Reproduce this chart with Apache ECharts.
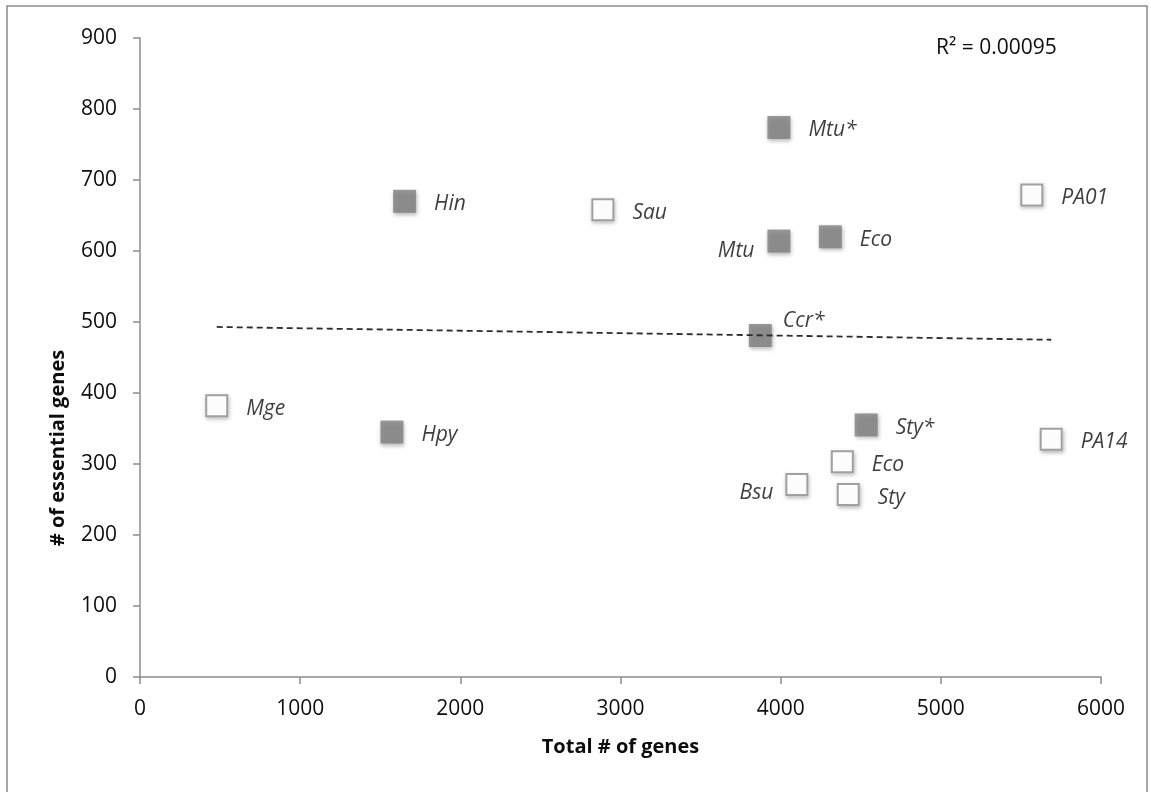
<!DOCTYPE html>
<html>
<head>
<meta charset="utf-8">
<script src="https://cdn.jsdelivr.net/npm/echarts@6/dist/echarts.min.js"></script>
<style>
  html, body { margin: 0; padding: 0; background: #fff; }
  #chart { width: 1151px; height: 792px; }
</style>
</head>
<body>
<div id="chart"></div>
<script>
// Organisms whose essential gene sets are drawn as filled squares
const filledNames = ['Hin', 'Mtu*', 'Mtu', 'Eco', 'Ccr*', 'Hpy', 'Sty*'];
const filledTotalGenes = [1652, 3989, 3989, 4310, 3873, 1573, 4534];
const filledEssentialGenes = [670, 774, 614, 620, 481, 345, 355];

// Organisms drawn as open squares
const openNames = ['Sau', 'PA01', 'Mge', 'Eco', 'Bsu', 'Sty', 'PA14'];
const openTotalGenes = [2890, 5568, 479, 4385, 4101, 4422, 5689];
const openEssentialGenes = [658, 679, 382, 303, 271, 257, 335];

// Linear trendline end points
const trendTotalGenes = [479, 5689];
const trendEssentialGenes = [493, 475];
const rSquaredText = 'R² = 0.00095';

const xTicks = { min: 0, max: 6000, interval: 1000 };
const yTicks = { min: 0, max: 900, interval: 100 };

const FONT = '"Open Sans", "DejaVu Sans", sans-serif';
const axisGray = '#8c8c8c';
const textColor = '#0d0d0d';

// Label placement tweaks for crowded points
const labelOverrides = {
  'Mtu': { position: 'left', distance: 13, offset: [0, 10] },
  'Bsu': { position: 'left', distance: 12, offset: [0, 8] },
  'Ccr*': { position: 'right', distance: 11, offset: [0, -14] }
};

function buildPoints(names, xs, ys, withOverrides) {
  return names.map((n, i) => {
    const item = { name: n, value: [xs[i], ys[i]] };
    if (withOverrides && labelOverrides[n]) item.label = labelOverrides[n];
    return item;
  });
}

const pointLabel = {
  show: true,
  formatter: '{b}',
  position: 'right',
  distance: 18,
  offset: [0, 3],
  fontFamily: FONT,
  fontStyle: 'italic',
  fontSize: 21,
  color: textColor
};

const squareShadow = {
  shadowColor: 'rgba(0,0,0,0.35)', shadowBlur: 4, shadowOffsetX: 1, shadowOffsetY: 2
};

const chart = echarts.init(document.getElementById('chart'), null, { renderer: 'canvas' });

chart.setOption({
  backgroundColor: '#ffffff',
  animation: false,
  grid: { left: 140, right: 50, top: 38, bottom: 115, outerBoundsMode: 'none' },
  xAxis: {
    type: 'value',
    min: xTicks.min, max: xTicks.max, interval: xTicks.interval,
    name: 'Total # of genes',
    nameLocation: 'middle',
    nameGap: 60,
    nameTextStyle: { fontFamily: FONT, fontWeight: 'bold', fontSize: 20, color: textColor },
    axisLine: { show: true, lineStyle: { color: axisGray, width: 1.5 } },
    axisTick: { show: true, inside: false, length: 7, lineStyle: { color: axisGray, width: 1.5 } },
    axisLabel: { fontFamily: FONT, fontSize: 21, color: textColor, margin: 22, formatter: v => String(v) },
    splitLine: { show: false }
  },
  yAxis: {
    type: 'value',
    min: yTicks.min, max: yTicks.max, interval: yTicks.interval,
    axisLine: { show: true, lineStyle: { color: axisGray, width: 1.5 } },
    axisTick: { show: true, inside: false, length: 7, lineStyle: { color: axisGray, width: 1.5 } },
    axisLabel: { fontFamily: FONT, fontSize: 21, color: textColor, margin: 23, formatter: v => String(v) },
    splitLine: { show: false }
  },
  graphic: [
    {
      type: 'rect',
      shape: { x: 7, y: 6, width: 1140, height: 800 },
      style: { fill: 'none', stroke: axisGray, lineWidth: 1.5 },
      silent: true, z: 0
    },
    {
      type: 'text',
      x: 58, y: 448,
      rotation: Math.PI / 2,
      style: {
        text: '# of essential genes',
        fontFamily: FONT, fontWeight: 'bold', fontSize: 20, fill: textColor,
        align: 'center', verticalAlign: 'middle'
      }
    },
    {
      type: 'text',
      left: 936, top: 38,
      style: { text: rSquaredText, fontFamily: FONT, fontSize: 21, fill: textColor }
    }
  ],
  series: [
    {
      name: 'filled',
      type: 'scatter',
      symbol: 'rect',
      symbolSize: 23,
      z: 2,
      itemStyle: Object.assign({ color: '#7f7f7f' }, squareShadow),
      label: pointLabel,
      data: buildPoints(filledNames, filledTotalGenes, filledEssentialGenes, true)
    },
    {
      // soft drop shadow underneath the open squares
      name: 'open-shadow',
      type: 'scatter',
      symbol: 'rect',
      symbolSize: 23,
      z: 1,
      silent: true,
      itemStyle: Object.assign({ color: '#ffffff' }, squareShadow),
      label: { show: false },
      data: buildPoints(openNames, openTotalGenes, openEssentialGenes, false)
    },
    {
      name: 'open',
      type: 'scatter',
      symbol: 'rect',
      symbolSize: 21,
      z: 2,
      itemStyle: { color: '#ffffff', borderColor: '#8a8a8a', borderWidth: 2 },
      label: pointLabel,
      data: buildPoints(openNames, openTotalGenes, openEssentialGenes, true)
    },
    {
      name: 'trend',
      type: 'line',
      z: 5,
      symbol: 'none',
      silent: true,
      lineStyle: { color: '#2b2b2b', width: 1.8, type: [6, 4] },
      data: trendTotalGenes.map((x, i) => [x, trendEssentialGenes[i]])
    }
  ]
});
</script>
</body>
</html>
